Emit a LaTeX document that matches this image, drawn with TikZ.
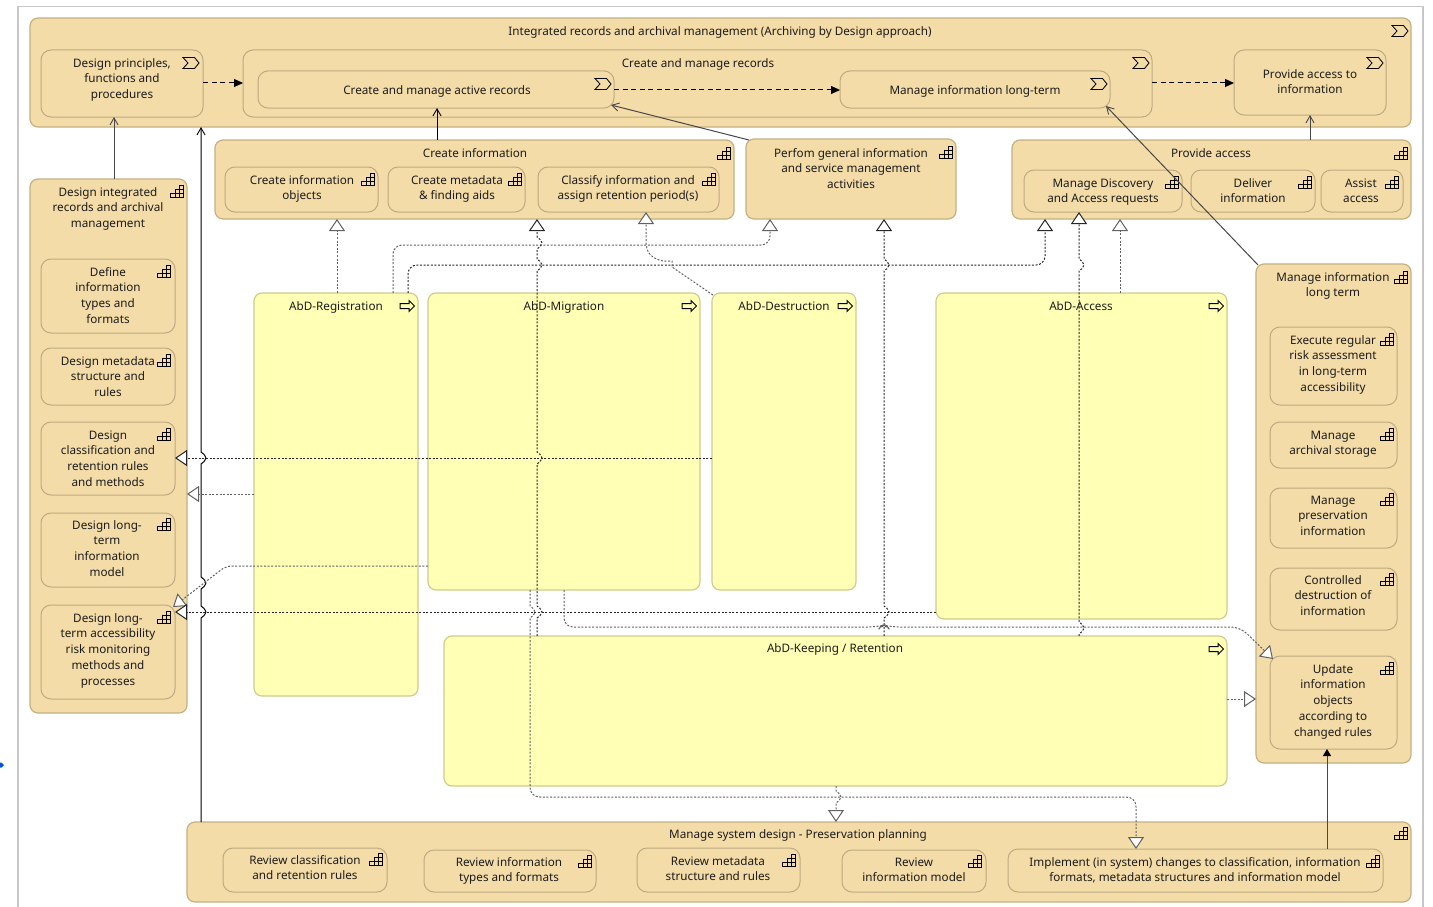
\documentclass[tikz,border=0pt]{standalone}
\usepackage{fontspec}
\setmainfont{Noto Sans}
\usetikzlibrary{arrows.meta,calc}
\definecolor{tan}{HTML}{F4DCA8}
\definecolor{tanline}{HTML}{C4B082}
\definecolor{inline}{HTML}{BDAA82}
\definecolor{yel}{HTML}{FFFFB5}
\definecolor{yelline}{HTML}{CDCD8E}
\definecolor{ink}{HTML}{1C1C1C}
\tikzset{
 boxbase/.style={draw,rectangle,inner sep=0pt,outer sep=0pt,rounded corners=8pt,line width=1.2pt},
 outerbox/.style={boxbase,fill=tan,draw=tanline},
 innerbox/.style={boxbase,fill=tan,draw=inline,rounded corners=10pt,line width=1pt},
 yelbox/.style={boxbase,fill=yel,draw=yelline},
 lbl/.style={anchor=north,inner sep=0pt,align=center,text=ink,font=\fontsize{11.7}{15.7}\selectfont},
 iconline/.style={draw=black,line width=0.85pt,line join=miter},
 sol/.style={draw=black,line width=1pt,line join=round},
 solg/.style={draw=black!72,line width=1pt,line join=round},
 open/.style={sol,-{Straight Barb[length=7pt,width=8pt,line width=0.9pt]}},
 openg/.style={solg,-{Straight Barb[length=7pt,width=8pt,line width=0.9pt]}},
 fil/.style={solg,-{Triangle[length=7pt,width=8pt,fill=black,color=black]}},
 trig/.style={sol,dash pattern=on 5pt off 3.5pt,-{Triangle[length=9pt,width=8pt]}},
 real/.style={draw=black!85,line width=1pt,dash pattern=on 2pt off 1.6pt,rounded corners=9pt,
   -{Triangle[length=12pt,width=16pt,fill=white,line width=1pt]}},
 realg/.style={real,draw=black!62},
}
\newcommand{\abox}[6]{\node[#6,minimum width={(#4)-(#2)},minimum height={(#5)-(#3)}] (#1) at ({(#2+#4)/2},{(#3+#5)/2}) {};}
\newcommand{\atxt}[4]{\node[lbl] (#1) at (#2,#3-5) {\rule{0pt}{9pt}#4};}
\newcommand{\ficon}[2]{\draw[iconline,shift={(#1,#2)}] (-6.5,6)--(6.5,6)--(6.5,-6)--(2,-6)--(2,-2)--(-2,-2)--(-2,2)--(-6.5,2)--cycle (-2,2)--(6.5,2) (2,-2)--(6.5,-2) (-2,2)--(-2,6) (2,-2)--(2,6);}
\newcommand{\picon}[2]{\draw[iconline,shift={(#1,#2)}] (-8,-5.5)--(3.5,-5.5)--(8,0)--(3.5,5.5)--(-8,5.5)--(-3,0)--cycle;}
\newcommand{\aicon}[2]{\draw[iconline,line width=1pt,shift={(#1,#2)}] (-7,-2.5)--(2,-2.5)--(2,-5.5)--(7.5,0)--(2,5.5)--(2,2.5)--(-7,2.5)--cycle;}
\newcommand{\vup}[2]{-- (#1,#2+6) .. controls (#1+3,#2+4) .. (#1+5,#2) .. controls (#1+3,#2-4) .. (#1,#2-6)}
\newcommand{\vdn}[2]{-- (#1,#2-6) .. controls (#1+3,#2-4) .. (#1+5,#2) .. controls (#1+3,#2+4) .. (#1,#2+6)}
\newcommand{\hrt}[2]{-- (#1-7,#2) .. controls (#1-3,#2-1) .. (#1,#2-5) .. controls (#1+3,#2-1) .. (#1+7,#2)}
\begin{document}
\begin{tikzpicture}[x=1pt,y=-1pt]
\useasboundingbox (0,0) rectangle (1433,907);
\draw[draw=black!22,line width=1.8pt] (18,907)--(18,6.5)--(1423,6.5)--(1423,907);
\fill[blue!60!cyan!85!black] (0,762.5)--(1.5,762.5)--(4,765)--(1.5,767.5)--(0,767.5)--cycle;
% top group
\abox{iram}{30}{18}{1411}{127}{outerbox}
\atxt{iramt}{720}{31}{Integrated records and archival management (Archiving by Design approach)}
\picon{1400}{31}
\abox{dp}{41}{50}{203}{117}{innerbox}
\atxt{dpt}{122}{63}{Design principles,\\functions and\\procedures}
\picon{191}{63}
\abox{cmr}{243}{50}{1152}{117}{innerbox}
\atxt{cmrt}{698}{63}{Create and manage records}
\picon{1141}{63}
\abox{active}{258}{71}{614}{108}{innerbox}
\atxt{activet}{437}{90}{Create and manage active records}
\picon{603}{84}
\abox{milt}{840}{71}{1110}{108}{innerbox}
\atxt{miltt}{975}{90}{Manage information long-term}
\picon{1099}{84}
\abox{pai}{1234}{50}{1386}{115}{innerbox}
\atxt{pait}{1310}{74}{Provide access to\\information}
\picon{1375}{63}
% second row
\abox{ci}{215}{140}{734}{219}{outerbox}
\atxt{cit}{475}{153}{Create information}
\ficon{724}{153}
\abox{cio}{225}{167}{378}{212}{innerbox}
\atxt{ciot}{302}{180}{Create information\\objects}
\ficon{368}{179}
\abox{cm}{388}{167}{525}{212}{innerbox}
\atxt{cmt}{457}{180}{Create metadata\\\& finding aids}
\ficon{515}{179}
\abox{cl}{538}{167}{719}{212}{innerbox}
\atxt{clt}{628}{180}{Classify information and\\assign retention period(s)}
\ficon{709}{179}
\abox{perf}{746}{139}{956}{219}{outerbox}
\atxt{perft}{851}{153}{Perfom general information\\and service management\\activities}
\ficon{946}{152}
\abox{pa}{1012}{140}{1411}{219}{outerbox}
\atxt{pat}{1211}{153}{Provide access}
\ficon{1401}{153}
\abox{md}{1024}{170}{1182}{212}{innerbox}
\atxt{mdt}{1103}{183}{Manage Discovery\\and Access requests}
\ficon{1172}{182}
\abox{de}{1191}{170}{1315}{212}{innerbox}
\atxt{det}{1253}{183}{Deliver\\information}
\ficon{1305}{182}
\abox{as}{1321}{170}{1403}{212}{innerbox}
\atxt{ast}{1361}{183}{Assist\\access}
\ficon{1392}{182}
% left column
\abox{dib}{30}{179}{187}{713}{outerbox}
\atxt{dibt}{108}{192}{Design integrated\\records and archival\\management}
\ficon{177}{191}
\abox{dif}{41}{259}{175}{333}{innerbox}
\atxt{dift}{108}{272}{Define\\information\\types and\\formats}
\ficon{164}{271}
\abox{dm}{41}{348}{175}{405}{innerbox}
\atxt{dmt}{108}{361}{Design metadata\\structure and\\rules}
\ficon{164}{360}
\abox{dc}{41}{422}{175}{495}{innerbox}
\atxt{dct}{108}{435}{Design\\classification and\\retention rules\\and methods}
\ficon{164}{434}
\abox{dl}{41}{513}{175}{587}{innerbox}
\atxt{dlt}{107}{525}{Design long-\\term\\information\\model}
\ficon{164}{524}
\abox{dla}{41}{605}{175}{699}{innerbox}
\atxt{dlat}{108}{618}{Design long-\\term accessibility\\risk monitoring\\methods and\\processes}
\ficon{164}{617}
% right column
\abox{ltr}{1256}{264}{1411}{763}{outerbox}
\atxt{ltrt}{1333}{277}{Manage information\\long term}
\ficon{1401}{277}
\abox{er}{1270}{327}{1397}{405}{innerbox}
\atxt{ert}{1333}{340}{Execute regular\\risk assessment\\in long-term\\accessibility}
\ficon{1387}{339}
\abox{ma}{1270}{422}{1397}{468}{innerbox}
\atxt{mat}{1333}{435}{Manage\\archival storage}
\ficon{1387}{434}
\abox{mp}{1270}{488}{1397}{548}{innerbox}
\atxt{mpt}{1333}{500}{Manage\\preservation\\information}
\ficon{1387}{499}
\abox{cd}{1270}{568}{1397}{630}{innerbox}
\atxt{cdt}{1333}{580}{Controlled\\destruction of\\information}
\ficon{1387}{579}
\abox{upd}{1270}{656}{1397}{749}{innerbox}
\atxt{updt}{1333}{669}{Update\\information\\objects\\according to\\changed rules}
\ficon{1387}{668}
% yellow
\abox{reg}{254}{293}{418}{696}{yelbox}
\atxt{regt}{336}{306}{AbD-Registration}
\aicon{407}{306}
\abox{mig}{428}{293}{700}{590}{yelbox}
\atxt{migt}{564}{306}{AbD-Migration}
\aicon{689}{306}
\abox{dest}{712}{293}{856}{590}{yelbox}
\atxt{destt}{784}{306}{AbD-Destruction}
\aicon{845}{306}
\abox{acc}{936}{293}{1227}{619}{yelbox}
\atxt{acct}{1081}{306}{AbD-Access}
\aicon{1216}{306}
\abox{keep}{444}{636}{1227}{786}{yelbox}
\atxt{keept}{835}{648}{AbD-Keeping / Retention}
\aicon{1216}{649}
% bottom
\abox{sys}{187}{822}{1411}{902}{outerbox}
\atxt{syst}{798}{834}{Manage system design - Preservation planning}
\ficon{1401}{833}
\abox{rc}{223}{848}{387}{892}{innerbox}
\atxt{rct}{305}{860}{Review classification\\and retention rules}
\ficon{376}{859}
\abox{ri}{424}{850}{596}{892}{innerbox}
\atxt{rit}{509}{862}{Review information\\types and formats}
\ficon{585}{861}
\abox{rm}{637}{848}{800}{892}{innerbox}
\atxt{rmt}{718}{861}{Review metadata\\structure and rules}
\ficon{789}{860}
\abox{rim}{842}{850}{986}{892}{innerbox}
\atxt{rimt}{914}{862}{Review\\information model}
\ficon{975}{861}
\abox{imp}{1008}{849}{1383}{892}{innerbox}
\atxt{impt}{1195}{862}{Implement (in system) changes to classification, information\\formats, metadata structures and information model}
\ficon{1373}{861}
% solid
\draw[openg] (114,0 |- dib.north) -- (114,0 |- dp.south);
\draw[open] (437,0 |- ci.north) -- (437,0 |- active.south);
\draw[openg] ([shift={(3pt,-1pt)}]perf.north west) -- ([shift={(-3pt,3pt)}]active.south east);
\draw[openg] (1310,0 |- pa.north) -- (1310,0 |- pai.south);
\draw[openg] ([shift={(2pt,-1pt)}]ltr.north west) -- ([shift={(-4pt,2pt)}]milt.south east);
\draw[fil] (1327,0 |- imp.north) -- (1327,0 |- upd.south);
\draw[open] (201,0 |- sys.north) \vup{201}{612} \vup{201}{583} \vup{201}{458} -- (201,0 |- iram.south);
\draw[trig] (dp.east |- 0,83) -- (cmr.west |- 0,83);
\draw[trig] (active.east |- 0,90) -- (milt.west |- 0,90);
\draw[trig] (cmr.east |- 0,83) -- (pai.west |- 0,83);
% realisation
\draw[realg] (337,0 |- reg.north) -- (337,0 |- ci.south);
\draw[realg] (393,0 |- reg.north) -- (393,245) -- (770,245) -- (770,0 |- perf.south);
\draw[real] (408,0 |- reg.north) -- (408,265) -- (1045,265) -- (1045,0 |- pa.south);
\draw[real,rounded corners=0pt] (537,0 |- keep.north) \vup{537}{612} \vup{537}{458} \vup{537}{265} \vup{537}{243} -- (537,0 |- ci.south);
\draw[realg,rounded corners=0pt] ([shift={(1pt,-2pt)}]dest.north west) -- (672,267) -- (672,261) -- (663,261) .. controls (650,258) and (646,252) .. (646,240) -- (646,0 |- cl.south);
\draw[real,rounded corners=0pt] (884,0 |- keep.north) \vup{884}{612} \vup{884}{265} -- (884,0 |- perf.south);
\draw[real,rounded corners=0pt] (1079,0 |- keep.north) \vup{1079}{628} \vup{1079}{265} -- (1079,0 |- md.south);
\draw[realg] (1120,0 |- acc.north) -- (1120,0 |- pa.south);
\draw[real] (dest.west |- 0,458) -- (dc.east |- 0,458);
\draw[realg] (reg.west |- 0,494) -- (dib.east |- 0,494);
\draw[realg,rounded corners=6pt] (mig.west |- 0,566) -- (226,566) -- ([shift={(-2pt,-2pt)}]dla.north east);
\draw[real] (acc.west |- 0,612) -- (dla.east |- 0,612);
\draw[realg] (564,0 |- mig.south) -- (564,627) \hrt{884}{627} -- (1240,627) -- ([shift={(3pt,-3pt)}]upd.north west);
\draw[realg,rounded corners=0pt] (530,0 |- mig.south) \vdn{530}{612} -- (530,787) .. controls (530,793) and (534,797) .. (540,797) -- (1126,797) .. controls (1132,797) and (1136,801) .. (1136,807) -- (1136,0 |- imp.north);
\draw[realg,rounded corners=0pt] (836,0 |- keep.south) \vdn{836}{797} -- (836,0 |- sys.north);
\draw[realg] (keep.east |- 0,699) -- (ltr.west |- 0,699);
\end{tikzpicture}
\end{document}
